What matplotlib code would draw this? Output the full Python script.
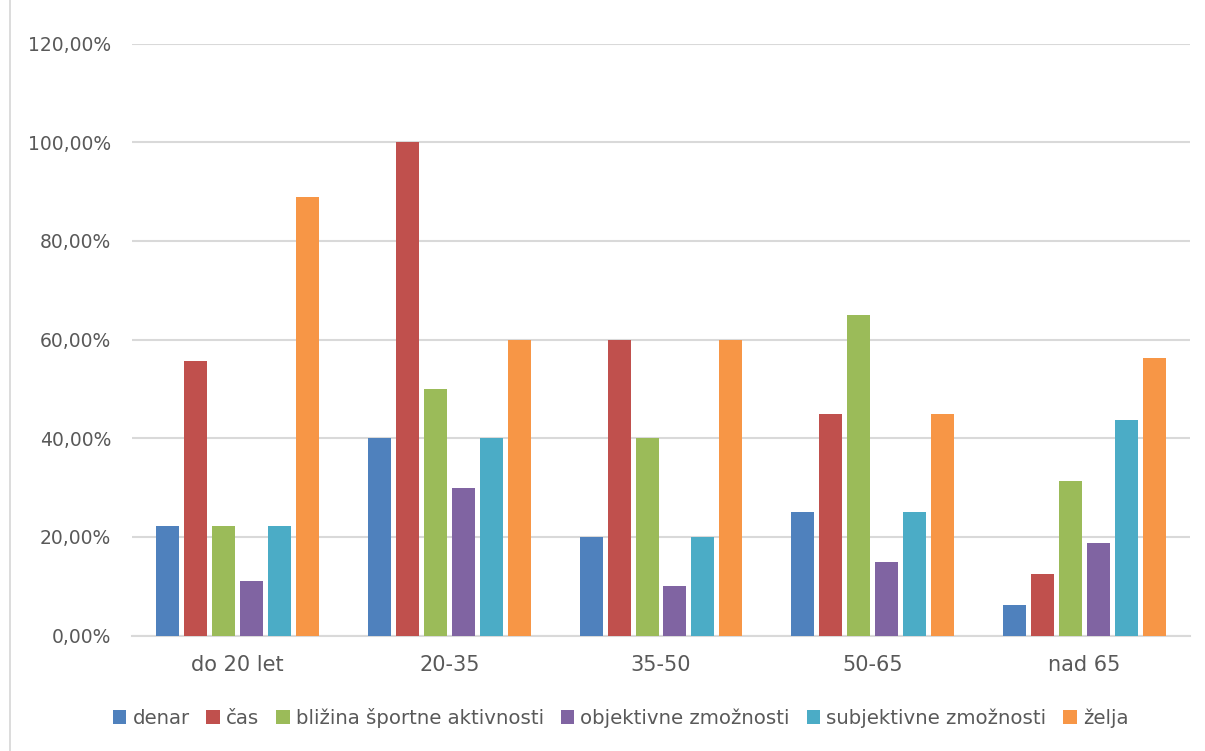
import matplotlib
matplotlib.use("Agg")
import matplotlib.pyplot as plt
import numpy as np
from matplotlib.patches import Rectangle
from matplotlib.ticker import FuncFormatter, MultipleLocator

categories = ["do 20 let", "20-35", "35-50", "50-65", "nad 65"]
series_names = ["denar", "čas", "bližina športne aktivnosti",
                "objektivne zmožnosti", "subjektivne zmožnosti", "želja"]
denar = [22.22, 40.0, 20.0, 25.0, 6.25]
cas = [55.56, 100.0, 60.0, 45.0, 12.5]
blizina = [22.22, 50.0, 40.0, 65.0, 31.25]
objektivne = [11.11, 30.0, 10.0, 15.0, 18.75]
subjektivne = [22.22, 40.0, 20.0, 25.0, 43.75]
zelja = [88.89, 60.0, 60.0, 45.0, 56.25]
series_values = [denar, cas, blizina, objektivne, subjektivne, zelja]
colors = ["#4F81BD", "#C0504D", "#9BBB59", "#8064A2", "#4BACC6", "#F79646"]

plt.rcParams["font.family"] = ["DejaVu Sans"]
text_color = "#595959"

fig = plt.figure(figsize=(12.05, 7.51), dpi=100)
fig.patches.append(Rectangle((10 / 1205, -0.01), 1.0, 1.02, transform=fig.transFigure,
                             fill=False, edgecolor="#d9d9d9", linewidth=1.3))
ax = fig.add_axes([132 / 1205, 1 - 635.5 / 751, 1058 / 1205, (635.5 - 43.5) / 751])

x = np.arange(len(categories))
pitch = 0.1323
width = 0.1087
offsets = (np.arange(len(series_names)) - (len(series_names) - 1) / 2) * pitch
for vals, name, col, off in zip(series_values, series_names, colors, offsets):
    ax.bar(x + off, vals, width=width, color=col, label=name, zorder=3)

ax.set_xlim(-0.5, len(categories) - 0.5)
ax.set_ylim(0, 120)
ax.yaxis.set_major_locator(MultipleLocator(20))
ax.yaxis.set_major_formatter(FuncFormatter(lambda v, p: f"{v:.2f}%".replace(".", ",")))
ax.grid(axis="y", color="#d9d9d9", linewidth=1.5, zorder=0)
ax.set_xticks(x)
ax.set_xticklabels(categories, fontsize=15)
ax.tick_params(axis="both", length=0, colors=text_color)
ax.tick_params(axis="y", pad=15, labelsize=13.5)
ax.tick_params(axis="x", pad=14)
for s in ["top", "right", "left"]:
    ax.spines[s].set_visible(False)
ax.spines["bottom"].set_color("#d9d9d9")
ax.spines["bottom"].set_linewidth(1.5)

leg = fig.legend(loc="center", bbox_to_anchor=(0.515, 1 - 718 / 751), ncol=6, frameon=False,
                 handlelength=0.7, handleheight=0.7, handletextpad=0.3, columnspacing=0.85,
                 fontsize=14.2)
for t in leg.get_texts():
    t.set_color(text_color)

fig.savefig("out.png", dpi=100)
